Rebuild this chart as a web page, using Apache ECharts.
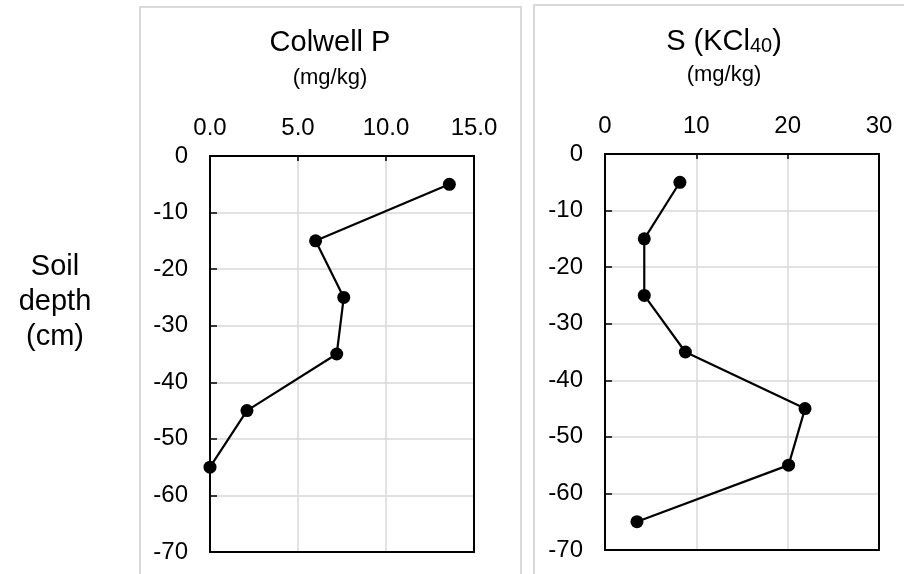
<!DOCTYPE html>
<html>
<head>
<meta charset="utf-8">
<script src="https://cdn.jsdelivr.net/npm/echarts@6/dist/echarts.min.js"></script>
<style>
html,body{margin:0;padding:0;background:#fff;}
#chart{width:904px;height:574px;}
</style>
</head>
<body>
<div id="chart"></div>
<script>
// Data
var depthP = [-5, -15, -25, -35, -45, -55];
var colwellP = [13.6, 6.0, 7.6, 7.2, 2.1, 0.0];
var depthS = [-5, -15, -25, -35, -45, -55, -65];
var sulfurS = [8.2, 4.3, 4.3, 8.8, 21.9, 20.1, 3.5];
var xTicksP = [0, 5, 10, 15];
var xTicksS = [0, 10, 20, 30];
var yTicks = [0, -10, -20, -30, -40, -50, -60, -70];

var FONT = '"Liberation Sans", Arial, sans-serif';

function pairs(xs, ys) { return xs.map(function (x, i) { return [x, ys[i]]; }); }

var chart = echarts.init(document.getElementById('chart'), null, {renderer: 'canvas'});

function xAxis(idx, min, max, interval, fmt) {
  return {
    type: 'value', gridIndex: idx, position: 'top', min: min, max: max, interval: interval,
    axisLine: {show: true, lineStyle: {color: '#000', width: 2}},
    axisTick: {show: true, inside: true, length: 5, lineStyle: {color: '#000', width: 1.5}},
    axisLabel: {show: true, margin: 28, verticalAlign: 'middle', fontFamily: FONT, fontSize: 24, color: '#000', formatter: fmt},
    splitLine: {show: true, lineStyle: {color: '#d9d9d9', width: 1.5}}
  };
}
function xAxisBottom(idx, min, max) {
  return {
    type: 'value', gridIndex: idx, position: 'bottom', min: min, max: max,
    axisLine: {show: true, onZero: false, lineStyle: {color: '#000', width: 2}},
    axisTick: {show: false}, axisLabel: {show: false}, splitLine: {show: false}
  };
}
function yAxis(idx) {
  return {
    type: 'value', gridIndex: idx, min: -70, max: 0, interval: 10,
    axisLine: {show: true, onZero: false, lineStyle: {color: '#000', width: 2}},
    axisTick: {show: true, inside: true, length: 7, lineStyle: {color: '#000', width: 1.5}},
    axisLabel: {show: true, margin: 22, fontFamily: FONT, fontSize: 24, color: '#000'},
    splitLine: {show: true, lineStyle: {color: '#d9d9d9', width: 1.5}}
  };
}
function yAxisRight(idx) {
  return {
    type: 'value', gridIndex: idx, min: -70, max: 0, position: 'right',
    axisLine: {show: true, onZero: false, lineStyle: {color: '#000', width: 2}},
    axisTick: {show: false}, axisLabel: {show: false}, splitLine: {show: false}
  };
}

var option = {
  animation: false,
  backgroundColor: '#fff',
  graphic: [
    {type: 'rect', shape: {x: 140, y: 7, width: 381, height: 600}, style: {fill: 'none', stroke: '#d9d9d9', lineWidth: 2}, z: -10},
    {type: 'rect', shape: {x: 534, y: 5, width: 400, height: 600}, style: {fill: 'none', stroke: '#d9d9d9', lineWidth: 2}, z: -10},
    {type: 'text', x: 330, y: 43, style: {text: 'Colwell P', font: '29px ' + FONT, fill: '#000', textAlign: 'center', textVerticalAlign: 'middle'}},
    {type: 'text', x: 330, y: 78, style: {text: '(mg/kg)', font: '22px ' + FONT, fill: '#000', textAlign: 'center', textVerticalAlign: 'middle'}},
    {type: 'text', x: 724, y: 42, style: {
      text: '{a|S (KCl}{b|40}{a|)}', textAlign: 'center', textVerticalAlign: 'middle',
      rich: {a: {fontFamily: FONT, fontSize: 29, fill: '#000', color: '#000'}, b: {fontFamily: FONT, fontSize: 20, color: '#000', fill: '#000', verticalAlign: 'bottom'}}
    }},
    {type: 'text', x: 724, y: 75, style: {text: '(mg/kg)', font: '22px ' + FONT, fill: '#000', textAlign: 'center', textVerticalAlign: 'middle'}},
    {type: 'text', x: 55, y: 302, style: {text: 'Soil\ndepth\n(cm)', font: '29px ' + FONT, fill: '#000', textAlign: 'center', textVerticalAlign: 'middle', lineHeight: 35}}
  ],
  grid: [
    {left: 210, top: 156, width: 264, height: 396},
    {left: 605, top: 154, width: 274, height: 396}
  ],
  xAxis: [
    xAxis(0, 0, 15, 5, function (v) { return v.toFixed(1); }),
    xAxis(1, 0, 30, 10, function (v) { return String(v); }),
    xAxisBottom(0, 0, 15),
    xAxisBottom(1, 0, 30)
  ],
  yAxis: [yAxis(0), yAxis(1), yAxisRight(0), yAxisRight(1)],
  series: [
    {type: 'line', xAxisIndex: 0, yAxisIndex: 0, data: pairs(colwellP, depthP), symbol: 'circle', symbolSize: 13,
     itemStyle: {color: '#000'}, lineStyle: {color: '#000', width: 2.2}, z: 5},
    {type: 'line', xAxisIndex: 1, yAxisIndex: 1, data: pairs(sulfurS, depthS), symbol: 'circle', symbolSize: 13,
     itemStyle: {color: '#000'}, lineStyle: {color: '#000', width: 2.2}, z: 5}
  ]
};
chart.setOption(option);
</script>
</body>
</html>
